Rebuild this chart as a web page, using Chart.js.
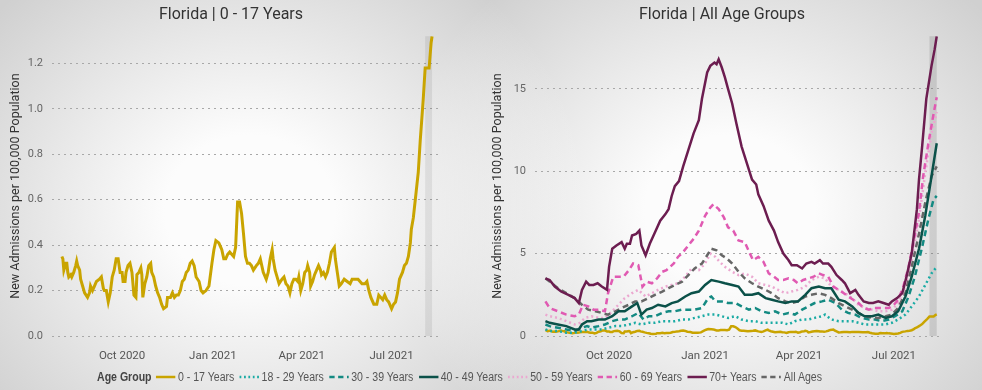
<!DOCTYPE html>
<html>
<head>
<meta charset="utf-8">
<script src="https://cdn.jsdelivr.net/npm/chart.js@4.4.1/dist/chart.umd.min.js"></script>
<style>
  html, body { margin: 0; padding: 0; }
  body {
    width: 982px; height: 390px; overflow: hidden; position: relative;
    background:
      radial-gradient(ellipse 340px 300px at 250px 210px, rgba(252,252,252,1) 25%, rgba(252,252,252,0) 100%),
      radial-gradient(ellipse 340px 300px at 730px 210px, rgba(252,252,252,1) 25%, rgba(252,252,252,0) 100%),
      #d0d0d0;
  }
  .panel { position: absolute; top: 0; height: 362px; }
  #left { left: 0; width: 462px; }
  #right { left: 490px; width: 464px; }
  #legend {
    position: absolute; left: 97px; top: 369px; height: 16px;
    display: flex; align-items: center; white-space: nowrap;
    font-family: 'Liberation Sans', sans-serif;
    font-size: 12px; color: #555;
    transform: scaleX(0.88); transform-origin: 0 50%;
  }
  #legend .head { font-weight: bold; color: #444; margin-right: 5px; }
  #legend .item { display: flex; align-items: center; margin-right: 6px; }
  #legend canvas { margin-right: 3px; }
</style>
</head>
<body>
<div class="panel" id="left"><canvas id="kidChart"></canvas></div>
<div class="panel" id="right"><canvas id="allChart"></canvas></div>
<div id="legend"><span class="head">Age Group</span></div>
<script>
// x values are days since 2020-08-01
const xTickDays = [61, 153, 243, 334];
const xTickLabels = ['Oct 2020', 'Jan 2021', 'Apr 2021', 'Jul 2021'];
const bandStart = 368;
const bandEnd = 375;

const age0to17 = [[0,.35],[1,.34],[2,.29],[4,.32],[5,.32],[6,.28],[7,.26],[9,.27],[10,.26],[12,.28],[14,.31],[15,.33],[16,.31],[18,.29],[19,.25],[21,.22],[23,.19],[26,.17],[28,.19],[29,.22],[31,.20],[33,.22],[35,.24],[38,.25],[40,.26],[42,.21],[43,.20],[45,.20],[47,.15],[49,.19],[51,.26],[53,.29],[55,.34],[57,.34],[59,.28],[61,.28],[62,.24],[64,.24],[65,.28],[67,.31],[69,.32],[71,.28],[72,.23],[73,.18],[75,.17],[76,.27],[78,.28],[80,.30],[81,.27],[82,.17],[84,.23],[86,.26],[88,.31],[90,.32],[91,.28],[93,.26],[95,.22],[97,.19],[99,.17],[101,.14],[103,.12],[106,.13],[107,.17],[110,.17],[112,.19],[114,.17],[116,.18],[118,.18],[120,.20],[122,.24],[124,.25],[126,.28],[128,.29],[130,.32],[132,.33],[134,.31],[136,.26],[139,.24],[141,.20],[143,.19],[146,.20],[149,.22],[152,.32],[154,.38],[156,.42],[159,.41],[161,.39],[162,.38],[164,.34],[166,.34],[168,.36],[170,.37],[172,.36],[174,.35],[176,.39],[178,.59],[180,.59],[182,.54],[184,.45],[186,.35],[188,.32],[190,.32],[192,.31],[194,.29],[197,.31],[199,.32],[201,.34],[202,.32],[204,.28],[207,.25],[209,.28],[211,.34],[213,.38],[214,.34],[216,.29],[218,.26],[220,.23],[223,.25],[225,.26],[227,.23],[229,.22],[231,.19],[233,.23],[235,.25],[237,.25],[239,.24],[240,.26],[242,.20],[244,.23],[246,.28],[248,.29],[249,.31],[251,.28],[252,.22],[254,.24],[256,.27],[258,.29],[260,.31],[262,.29],[263,.27],[265,.28],[267,.26],[269,.28],[271,.32],[273,.37],[276,.39],[277,.34],[279,.28],[281,.22],[283,.23],[286,.25],[289,.24],[292,.23],[294,.25],[297,.25],[300,.25],[304,.23],[307,.23],[309,.24],[311,.20],[313,.17],[316,.14],[319,.14],[321,.18],[323,.17],[325,.16],[327,.18],[329,.16],[331,.15],[334,.12],[336,.14],[338,.15],[340,.19],[342,.25],[345,.28],[347,.31],[349,.32],[351,.35],[353,.41],[354,.47],[356,.52],[358,.60],[359,.64],[361,.72],[363,.86],[366,1.04],[368,1.18],[370,1.18],[372,1.18],[374,1.29],[375,1.32]];

const age18to29 = [[0,0.4],[4,0.3],[12,0.3],[20,0.2],[28,0.2],[35,0.3],[41,0.4],[48,0.4],[54,0.4],[60,0.5],[67,0.6],[73,0.6],[80,0.7],[86,0.8],[92,0.7],[99,0.8],[105,0.8],[112,0.9],[118,0.9],[124,0.9],[131,1.0],[137,1.0],[143,1.1],[150,1.2],[156,1.3],[163,1.3],[169,1.2],[175,1.1],[182,1.2],[188,1.0],[195,0.9],[201,0.9],[207,0.8],[214,0.8],[220,0.8],[227,0.8],[233,0.7],[239,0.9],[246,1.0],[252,1.0],[258,1.1],[265,1.2],[268,1.3],[274,1.0],[281,0.9],[287,0.9],[294,0.9],[300,0.8],[306,0.7],[313,0.7],[319,0.7],[326,0.7],[332,0.8],[338,1.0],[345,1.3],[351,1.8],[358,2.4],[364,3.1],[370,3.8],[375,4.2]];

const age30to39 = [[0,0.7],[4,0.6],[12,0.5],[20,0.4],[28,0.3],[35,0.5],[40,0.6],[44,0.5],[51,0.6],[57,0.7],[64,0.9],[70,1.0],[76,1.0],[83,1.2],[89,1.4],[94,1.0],[99,1.2],[105,1.2],[112,1.4],[118,1.5],[124,1.5],[131,1.6],[137,1.6],[143,1.6],[150,1.7],[156,2.3],[159,2.4],[163,2.1],[169,2.1],[175,2.0],[182,2.0],[188,1.8],[195,1.6],[201,1.7],[207,1.5],[214,1.4],[220,1.5],[227,1.3],[233,1.4],[239,1.3],[246,1.6],[252,1.8],[258,2.0],[265,2.1],[271,2.2],[278,2.0],[284,1.6],[290,1.4],[297,1.3],[303,1.1],[310,1.0],[316,1.0],[322,0.9],[329,1.0],[335,1.2],[342,1.5],[348,2.4],[354,3.6],[361,5.4],[367,7.1],[372,8.3],[375,8.5]];

const age40to49 = [[0,0.9],[4,0.8],[12,0.7],[20,0.6],[28,0.4],[32,0.4],[35,0.7],[40,0.9],[44,0.9],[51,1.0],[57,1.0],[64,1.2],[70,1.5],[76,1.5],[83,1.8],[88,2.0],[92,1.3],[97,1.6],[102,1.7],[108,1.9],[115,1.8],[121,2.0],[127,2.1],[134,2.4],[140,2.6],[147,2.7],[153,3.1],[159,3.4],[166,3.3],[172,3.2],[179,3.1],[185,3.0],[191,2.5],[198,2.5],[204,2.6],[211,2.3],[217,2.2],[223,2.1],[230,2.0],[236,2.1],[242,2.1],[249,2.5],[255,2.9],[262,3.0],[268,2.9],[274,2.9],[281,2.2],[287,2.1],[294,1.8],[300,1.4],[306,1.2],[313,1.2],[319,1.3],[326,1.1],[332,1.2],[338,1.5],[345,2.4],[351,3.6],[358,5.3],[364,7.3],[370,9.7],[375,11.7]];

const age50to59 = [[0,1.3],[4,1.2],[12,1.1],[20,0.9],[28,0.7],[33,0.8],[38,1.1],[44,1.2],[51,1.1],[57,1.1],[64,1.5],[70,1.9],[76,2.3],[83,2.6],[89,2.8],[96,2.4],[102,2.6],[108,2.8],[115,3.0],[121,3.1],[127,3.2],[134,3.6],[140,4.1],[147,4.0],[153,4.4],[158,5.0],[163,4.8],[167,4.5],[172,4.2],[179,3.9],[185,3.7],[191,3.8],[198,3.6],[204,3.2],[211,3.1],[217,3.0],[223,2.8],[230,2.6],[236,2.7],[242,2.8],[249,3.0],[255,3.4],[262,3.6],[268,3.5],[274,3.0],[281,2.8],[287,2.6],[294,2.3],[300,1.9],[306,1.7],[313,1.6],[319,1.5],[326,1.5],[332,1.6],[338,2.0],[345,3.0],[351,4.6],[358,7.1],[364,9.9],[370,12.3],[375,13.6]];

const age60to69 = [[0,2.1],[4,1.7],[12,1.5],[20,1.3],[28,1.2],[32,1.3],[36,1.9],[41,1.8],[46,1.6],[51,1.6],[57,1.5],[60,2.6],[65,3.6],[70,3.6],[75,3.6],[80,4.0],[84,4.4],[89,4.3],[93,3.0],[97,3.3],[102,3.2],[107,3.5],[112,3.9],[116,4.0],[123,4.4],[127,4.8],[132,5.1],[137,5.5],[142,5.9],[147,6.4],[153,7.3],[158,7.8],[161,8.0],[166,7.7],[171,7.2],[175,6.6],[180,6.4],[185,5.8],[191,5.7],[196,5.0],[199,4.6],[204,4.8],[209,4.5],[214,3.8],[219,3.6],[223,3.4],[228,3.4],[233,3.5],[238,3.4],[242,3.2],[247,3.4],[252,3.5],[257,3.6],[262,3.8],[266,3.7],[271,3.6],[276,3.0],[281,2.8],[286,2.6],[290,2.4],[295,2.2],[300,2.0],[305,1.7],[310,1.6],[314,1.7],[319,1.7],[324,1.7],[329,1.7],[334,1.9],[338,2.2],[343,3.0],[348,4.2],[353,5.8],[358,7.5],[362,9.7],[367,11.7],[372,13.5],[375,14.5]];

const age70plus = [[0,3.5],[4,3.4],[9,3.0],[15,2.7],[22,2.5],[28,2.3],[32,2.0],[35,2.8],[39,3.3],[42,3.1],[46,3.1],[50,3.2],[54,3.0],[59,2.8],[61,4.2],[64,5.3],[68,5.5],[73,5.7],[76,5.3],[78,5.6],[81,5.6],[83,6.1],[87,6.2],[90,6.4],[92,5.5],[96,4.9],[100,5.6],[105,6.3],[110,7.0],[115,7.4],[118,7.7],[121,8.5],[124,9.1],[128,9.4],[132,10.3],[137,11.3],[142,12.3],[147,13.1],[150,14.4],[155,16.0],[158,16.4],[162,16.6],[164,16.5],[166,16.8],[169,16.3],[172,15.7],[175,15.0],[179,14.1],[183,12.9],[188,11.5],[193,10.5],[198,9.5],[202,9.2],[204,8.6],[209,7.9],[214,7.0],[219,6.4],[223,5.7],[228,5.0],[233,4.6],[236,4.3],[241,4.3],[246,4.1],[250,4.4],[255,4.5],[258,4.4],[263,4.6],[266,4.4],[271,4.4],[274,4.2],[279,3.7],[284,3.4],[287,3.2],[292,2.6],[297,2.8],[300,2.5],[305,2.1],[310,2.0],[314,2.0],[319,2.1],[324,2.0],[329,1.9],[332,2.1],[337,2.3],[342,2.6],[346,3.6],[351,5.0],[356,7.7],[358,9.5],[361,11.5],[365,14.4],[370,16.4],[373,17.4],[375,18.2]];

const ageAll = [[0,3.5],[4,3.3],[12,2.9],[20,2.6],[28,2.3],[35,1.9],[41,1.6],[48,1.5],[54,1.4],[60,1.3],[67,1.5],[73,1.7],[80,1.9],[86,2.1],[92,2.1],[99,2.3],[105,2.5],[112,2.7],[118,2.9],[124,3.1],[131,3.3],[137,3.7],[143,4.1],[150,4.4],[155,4.9],[159,5.3],[164,5.2],[169,4.9],[174,4.7],[179,4.4],[185,3.9],[191,3.5],[198,3.2],[204,3.0],[211,2.8],[217,2.6],[223,2.3],[230,2.1],[236,2.0],[242,2.1],[249,2.4],[255,2.5],[262,2.6],[268,2.5],[274,2.3],[281,2.0],[287,1.8],[294,1.6],[300,1.4],[306,1.2],[313,1.1],[319,1.1],[326,1.2],[332,1.3],[338,1.7],[345,2.6],[351,4.2],[358,6.2],[364,8.1],[370,9.7],[375,10.3]];

const groups = [
  { name: '0 - 17 Years',  data: age0to17,  color: '#C9A400', dash: [],     order: 7 },
  { name: '18 - 29 Years', data: age18to29, color: '#1AABA4', dash: [2, 3], order: 6 },
  { name: '30 - 39 Years', data: age30to39, color: '#148A82', dash: [6, 4], order: 4 },
  { name: '40 - 49 Years', data: age40to49, color: '#0B5149', dash: [],     order: 2 },
  { name: '50 - 59 Years', data: age50to59, color: '#EBA8D0', dash: [2, 3], order: 5 },
  { name: '60 - 69 Years', data: age60to69, color: '#E05AB2', dash: [6, 4], order: 1 },
  { name: '70+ Years',     data: age70plus, color: '#6C1D50', dash: [],     order: 0 },
  { name: 'All Ages',      data: ageAll,    color: '#666666', dash: [6, 4], order: 3 }
];

const bandPlugin = {
  id: 'latestBand',
  beforeDatasetsDraw(chart, args, opts) {
    const { ctx, chartArea, scales } = chart;
    const x0 = scales.x.getPixelForValue(bandStart);
    const x1 = scales.x.getPixelForValue(bandEnd);
    ctx.save();
    ctx.fillStyle = opts.color;
    ctx.fillRect(x0, chartArea.top, x1 - x0, chartArea.bottom - chartArea.top);
    ctx.restore();
  }
};

function toPoints(pairs) {
  return pairs.map(p => ({ x: p[0], y: p[1] }));
}

function makeChart(id, title, list, opt) {
  new Chart(document.getElementById(id), {
    type: 'line',
    data: {
      datasets: list.map(g => ({
        label: g.name,
        data: toPoints(g.data),
        borderColor: g.color,
        borderDash: g.dash,
        borderWidth: opt.lineWidth,
        order: g.order,
        pointRadius: 0,
        tension: 0,
        fill: false
      }))
    },
    options: {
      responsive: true,
      maintainAspectRatio: false,
      animation: false,
      // left padding keeps the title centred where the reference has it
      layout: { padding: { left: opt.padLeft, right: opt.padRight, top: 0, bottom: 0 } },
      plugins: {
        legend: { display: false },
        tooltip: { enabled: false },
        latestBand: { color: opt.bandColor },
        title: {
          display: true, text: title, color: '#333',
          font: { family: 'Roboto', size: 16, weight: 'normal' },
          padding: { top: 5, bottom: 12 }
        }
      },
      scales: {
        x: {
          type: 'linear', min: -10, max: 381,
          afterBuildTicks: s => { s.ticks = xTickDays.map(v => ({ value: v })); },
          ticks: {
            callback: v => xTickLabels[xTickDays.indexOf(v)],
            autoSkip: false, maxRotation: 0, padding: 5,
            color: '#555', font: { family: 'Roboto', size: 11.5 }
          },
          grid: { display: false },
          border: { display: false },
          afterFit: s => { s.height = 26; }
        },
        y: {
          min: 0, max: opt.yMax,
          ticks: {
            stepSize: opt.yStep, includeBounds: false, padding: 9,
            callback: v => v.toFixed(opt.yDecimals),
            color: '#666', font: { family: 'Roboto', size: 11 }
          },
          grid: { color: '#a8a8a8', lineWidth: 1, drawTicks: false },
          border: { display: false, dash: [2, 4] },
          title: {
            display: true, text: 'New Admissions per 100,000 Population',
            color: '#333', font: { family: 'Roboto', size: 12.5 },
            padding: { top: opt.titlePad, bottom: 0 }
          },
          afterFit: s => { s.width = opt.yWidth; }
        }
      }
    },
    plugins: [bandPlugin]
  });
}

makeChart('kidChart', 'Florida | 0 - 17 Years', [groups[0]], {
  lineWidth: 3, padLeft: 24, padRight: 24, yMax: 1.32, yStep: 0.2, yDecimals: 1,
  yWidth: 28, titlePad: -15.5, bandColor: 'rgba(0,0,0,0.07)'
});

makeChart('allChart', 'Florida | All Age Groups', groups, {
  lineWidth: 2.5, padLeft: 11, padRight: 11, yMax: 18.2, yStep: 5, yDecimals: 0,
  yWidth: 34, titlePad: -11, bandColor: 'rgba(0,0,0,0.11)'
});

// legend built from the same series list
const legend = document.getElementById('legend');
groups.forEach(g => {
  const item = document.createElement('span');
  item.className = 'item';
  const c = document.createElement('canvas');
  c.width = 22; c.height = 6;
  const cx = c.getContext('2d');
  cx.strokeStyle = g.color;
  cx.lineWidth = 2.5;
  cx.setLineDash(g.dash);
  cx.beginPath(); cx.moveTo(0, 3); cx.lineTo(22, 3); cx.stroke();
  const t = document.createElement('span');
  t.textContent = g.name;
  item.appendChild(c);
  item.appendChild(t);
  legend.appendChild(item);
});
</script>
</body>
</html>
